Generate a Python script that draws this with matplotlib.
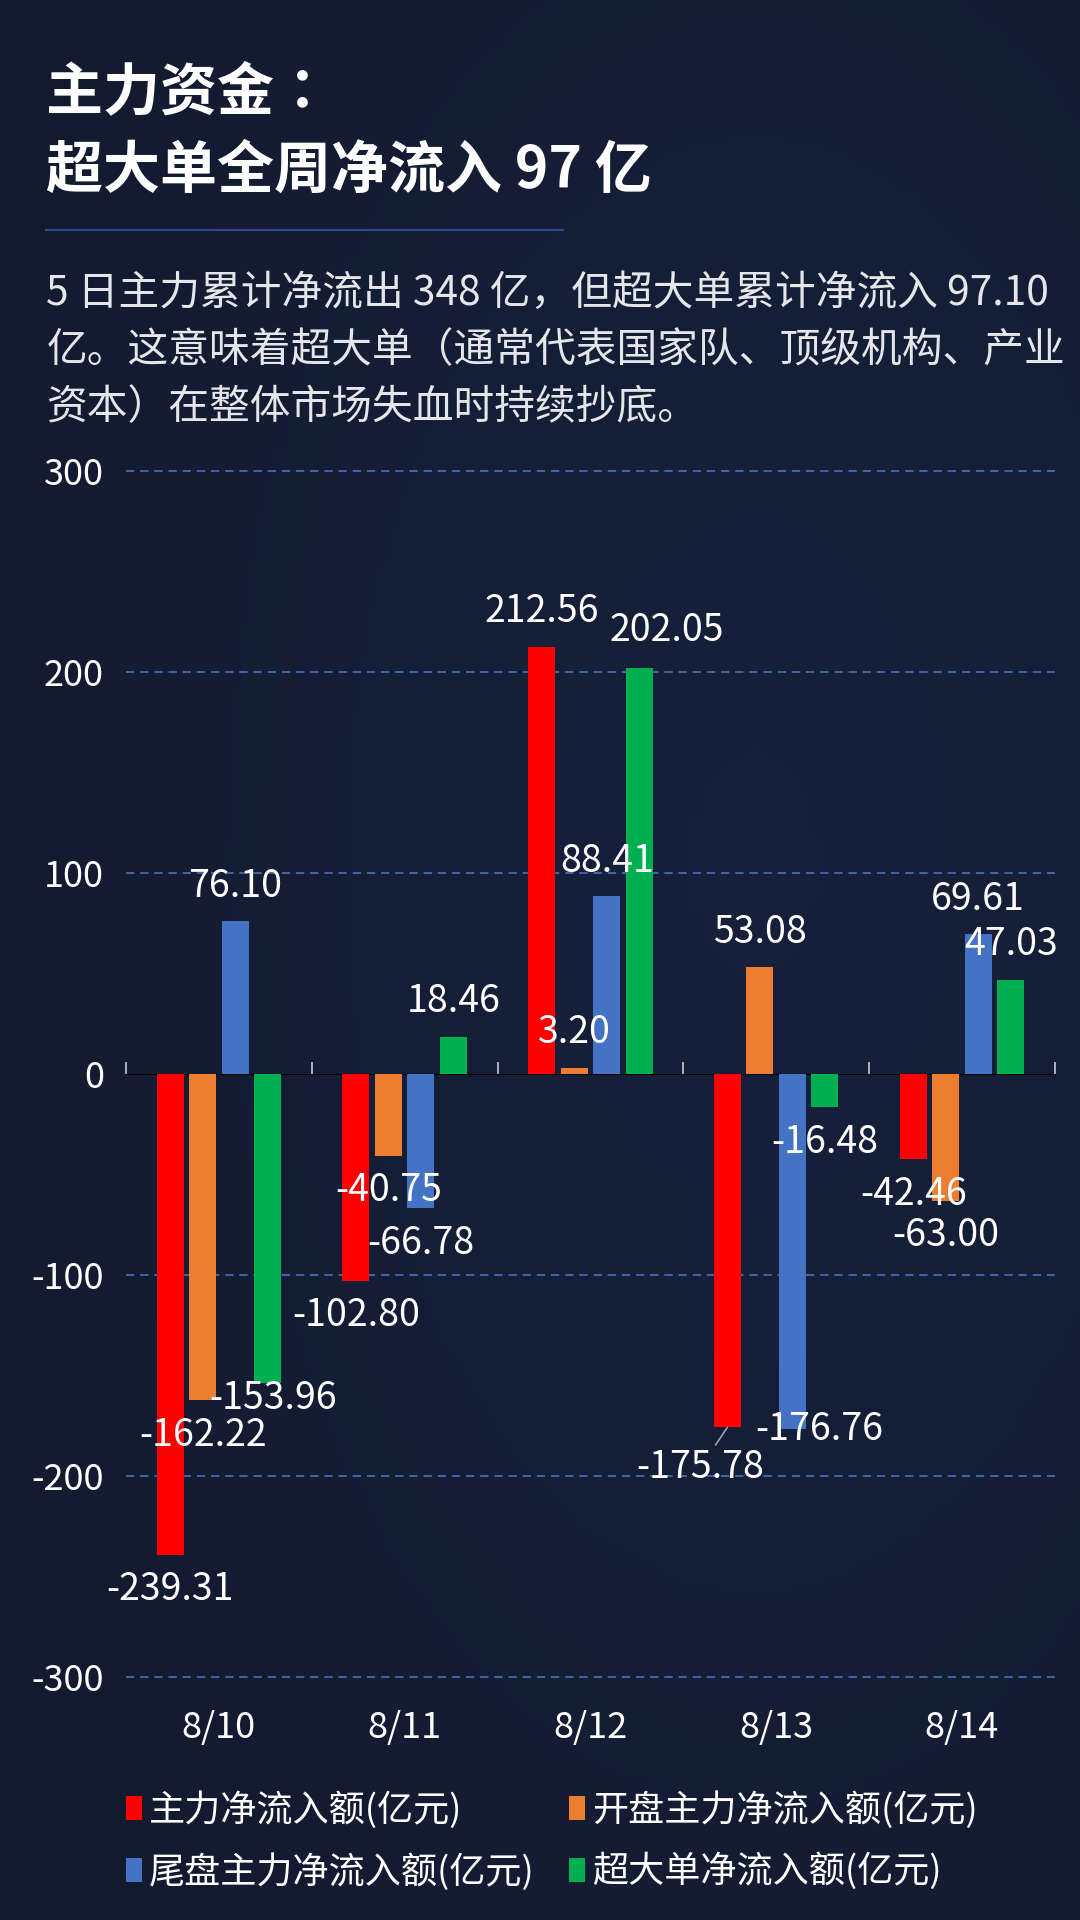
import numpy as np
import matplotlib.pyplot as plt
from matplotlib.patches import Patch

plt.rcParams['font.family'] = ['Noto Sans CJK SC', 'DejaVu Sans']

# data (亿元)
dates = ['8/10', '8/11', '8/12', '8/13', '8/14']
series_names = ['主力净流入额(亿元)', '开盘主力净流入额(亿元)',
                '尾盘主力净流入额(亿元)', '超大单净流入额(亿元)']
main_flow = [-239.31, -102.80, 212.56, -175.78, -42.46]
open_flow = [-162.22, -40.75, 3.20, 53.08, -63.00]
close_flow = [76.10, -66.78, 88.41, -176.76, 69.61]
super_flow = [-153.96, 18.46, 202.05, -16.48, 47.03]
colors = ['#FF0000', '#ED7D31', '#4472C4', '#00B050']

title = ['主力资金：', '超大单全周净流入 97 亿']
subtitle = ['5 日主力累计净流出 348 亿，但超大单累计净流入 97.10',
            '亿。这意味着超大单（通常代表国家队、顶级机构、产业',
            '资本）在整体市场失血时持续抄底。']

# label nudges in pixels (series index, date index) -> (dx, dy)
nudges = {(3, 0): (5, -15), (3, 2): (28, 38), (0, 3): (-27, -40), (2, 3): (27, 0)}
leaders = [(0, 3)]

bg = '#121a2b'
fig = plt.figure(figsize=(10.8, 19.2), dpi=100, facecolor=bg)

# soft background shading
bgax = fig.add_axes([0, 0, 1, 1], zorder=-10)
yy, xx = np.mgrid[0:1:200j, 0:1:120j]
shade = 0.55 + 0.45 * np.exp(-((xx - 0.7) ** 2 + (yy - 0.45) ** 2) * 2.5)
bgax.imshow(shade, cmap=plt.matplotlib.colors.LinearSegmentedColormap.from_list(
    'bg', ['#0b111d', '#16203a']), aspect='auto', extent=[0, 1, 0, 1], vmin=0, vmax=1)
bgax.set_axis_off()

# header
fig.text(0.043, 0.952, title[0], color='white', fontsize=41, fontweight='bold', va='center',
         family=['Noto Sans CJK TC', 'DejaVu Sans'])
fig.text(0.043, 0.911, title[1], color='white', fontsize=41, fontweight='bold', va='center')
fig.add_artist(plt.Line2D([0.043, 0.521], [0.880, 0.880], color='#2c4a8c', lw=1.5))
for i, line in enumerate(subtitle):
    fig.text(0.043, 0.847 - i * 0.0297, line, color='#e4e6ea', fontsize=29.3, va='center')

ax = fig.add_axes([0.1167, 0.1266, 0.860, 0.628])
ax.set_facecolor('none')

series = [main_flow, open_flow, close_flow, super_flow]
x = np.arange(len(dates))
width = 0.145
step = 0.175
for s, vals in enumerate(series):
    pos = x + (s - 1.5) * step
    bars = ax.bar(pos, vals, width, color=colors[s], label=series_names[s], zorder=3)
    for d, (b, v) in enumerate(zip(bars, vals)):
        bx = b.get_x() + b.get_width() / 2
        dx, dy = nudges.get((s, d), (0, 35 if v >= 0 else -35))
        arrow = None
        if (s, d) in leaders:
            arrow = dict(arrowstyle='-', color='#9aa0aa', lw=1.2, shrinkA=0, shrinkB=0)
        ax.annotate(f'{v:.2f}', (bx, v), xytext=(dx, dy), textcoords='offset pixels',
                    ha='center', va='center', color='white', fontsize=27,
                    arrowprops=arrow, zorder=5)

ax.set_xlim(-0.5, len(dates) - 0.5)
ax.set_ylim(-300, 300)
ax.set_yticks([-300, -200, -100, 0, 100, 200, 300])
ax.set_yticklabels(['-300', '-200', '-100', '0', '100', '200', '300'])
ax.set_xticks(x)
ax.set_xticklabels(dates)
ax.tick_params(axis='both', length=0, colors='white', labelsize=26)
ax.tick_params(axis='y', pad=16)
ax.tick_params(axis='x', pad=24)
for sp in ax.spines.values():
    sp.set_visible(False)

ax.yaxis.grid(True, color='#4a70c0', linestyle=(0, (5, 3.5)), lw=1.2, zorder=1)
for val, gl in zip(ax.get_yticks(), ax.get_ygridlines()):
    gl.set_clip_on(False)
    if val == 0:
        gl.set_visible(False)

# zero axis with category separators
zax = ax.secondary_xaxis(0.5)
zax.set_xticks(np.arange(-0.5, len(dates), 1.0))
zax.set_xticklabels([])
zax.tick_params(length=9, width=1.2, color='#c8ccd4', direction='out')
zax.spines['bottom'].set_color('#c8ccd4')
zax.spines['bottom'].set_linewidth(1.4)

handles = [Patch(facecolor=c) for c in colors]
order = [0, 2, 1, 3]
fig.legend([handles[i] for i in order], [series_names[i] for i in order], ncol=2,
           loc='upper left', bbox_to_anchor=(0.1167, 0.0672), frameon=False,
           fontsize=26, labelcolor='white', handlelength=0.44, handleheight=0.64,
           handletextpad=0.2, columnspacing=0.94, labelspacing=0.67,
           borderpad=0, borderaxespad=0)

fig.savefig('out.png', dpi=100, facecolor=bg)
